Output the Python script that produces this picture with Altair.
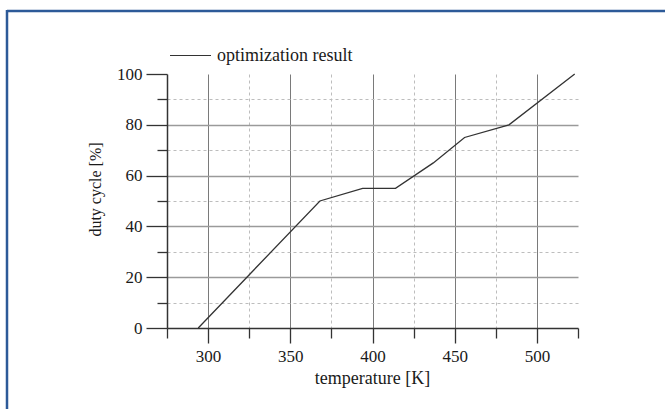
import altair as alt
import pandas as pd

# ---- data ----
temperature = [294, 368, 394, 414, 437, 456, 483, 523]
duty_cycle = [0, 50, 55, 55, 65, 75, 80, 100]
series_name = ["optimization result"] * len(temperature)

x_tick_values = [275, 300, 325, 350, 375, 400, 425, 450, 475, 500, 525]
y_tick_values = [0, 10, 20, 30, 40, 50, 60, 70, 80, 90, 100]

df = pd.DataFrame({"temperature": temperature, "duty": duty_cycle, "series": series_name})

FONT = "Liberation Serif"
TXT = "#1a1a1a"
FRAME = "#2d5a98"

x_major = "datum.value % 50 === 0"
y_major = "datum.value % 20 === 0"

x_axis = alt.Axis(
    values=x_tick_values,
    title="temperature [K]",
    titleFont=FONT, titleFontSize=18, titleFontWeight="normal", titleColor=TXT,
    titleX=205, titleY=55, titleBaseline="alphabetic", titleAlign="center",
    labelFont=FONT, labelFontSize=17, labelColor=TXT,
    labelExpr=f"{x_major} ? datum.label : ''",
    labelOverlap=False,
    labelPadding=5,
    tickSize={"condition": {"test": x_major, "value": 15}, "value": 10},
    tickColor="#333333", tickWidth=1.3,
    domainColor="#333333", domainWidth=1.5,
    grid=True,
    gridColor={"condition": {"test": x_major, "value": "#7a7a7a"}, "value": "#bdbdbd"},
    gridDash={"condition": {"test": x_major, "value": []}, "value": [3, 3]},
    gridOpacity={"condition": {"test": "datum.value === 275 || datum.value === 525", "value": 0}, "value": 1},
    gridWidth=1,
)

y_axis = alt.Axis(
    values=y_tick_values,
    title="duty cycle [%]",
    titleFont=FONT, titleFontSize=16, titleFontWeight="normal", titleColor=TXT,
    titleAngle=-90, titleX=-67, titleY=115, titleBaseline="alphabetic", titleAlign="center",
    labelFont=FONT, labelFontSize=17, labelColor=TXT,
    labelExpr=f"{y_major} ? datum.label : ''",
    labelOverlap=False,
    labelPadding=4,
    tickSize={"condition": {"test": y_major, "value": 21}, "value": 10},
    tickColor="#333333", tickWidth=1.3,
    domainColor="#333333", domainWidth=1.5,
    grid=True,
    gridColor={"condition": {"test": y_major, "value": "#9a9a9a"}, "value": "#bdbdbd"},
    gridDash={"condition": {"test": y_major, "value": []}, "value": [3, 3]},
    gridOpacity={"condition": {"test": "datum.value === 0 || datum.value === 100", "value": 0}, "value": 1},
    gridWidth={"condition": {"test": y_major, "value": 1.5}, "value": 1},
)

line = alt.Chart(df).mark_line(strokeWidth=1.3).encode(
    x=alt.X("temperature:Q", scale=alt.Scale(domain=[275, 525], nice=False, zero=False), axis=x_axis),
    y=alt.Y("duty:Q", scale=alt.Scale(domain=[0, 100], nice=False), axis=y_axis),
    color=alt.Color(
        "series:N",
        scale=alt.Scale(range=["#333333"]),
        legend=alt.Legend(
            title=None, orient="none", legendX=2, legendY=-40,
            symbolType="stroke", symbolSize=1681, symbolStrokeWidth=1.2,
            labelFont=FONT, labelFontSize=18, labelColor=TXT, labelOffset=5,
            padding=0,
        ),
    ),
)

frame_data = pd.DataFrame({"b": [0]})
frame_top = alt.Chart(frame_data).mark_rule(stroke=FRAME, strokeWidth=2.5).encode(
    x=alt.value(-160), x2=alt.value(900), y=alt.value(-63)
)
frame_left = alt.Chart(frame_data).mark_rule(stroke=FRAME, strokeWidth=2.5).encode(
    x=alt.value(-160), y=alt.value(-64), y2=alt.value(900)
)

chart = alt.layer(frame_top, frame_left, line).properties(
    width=411, height=254,
    padding={"left": 167, "top": 74, "right": 87, "bottom": 81},
    autosize=alt.AutoSizeParams(type="none"),
    background="white",
).configure_view(strokeWidth=0)

chart.save("out.html", embed_options={"renderer": "svg", "actions": False})
